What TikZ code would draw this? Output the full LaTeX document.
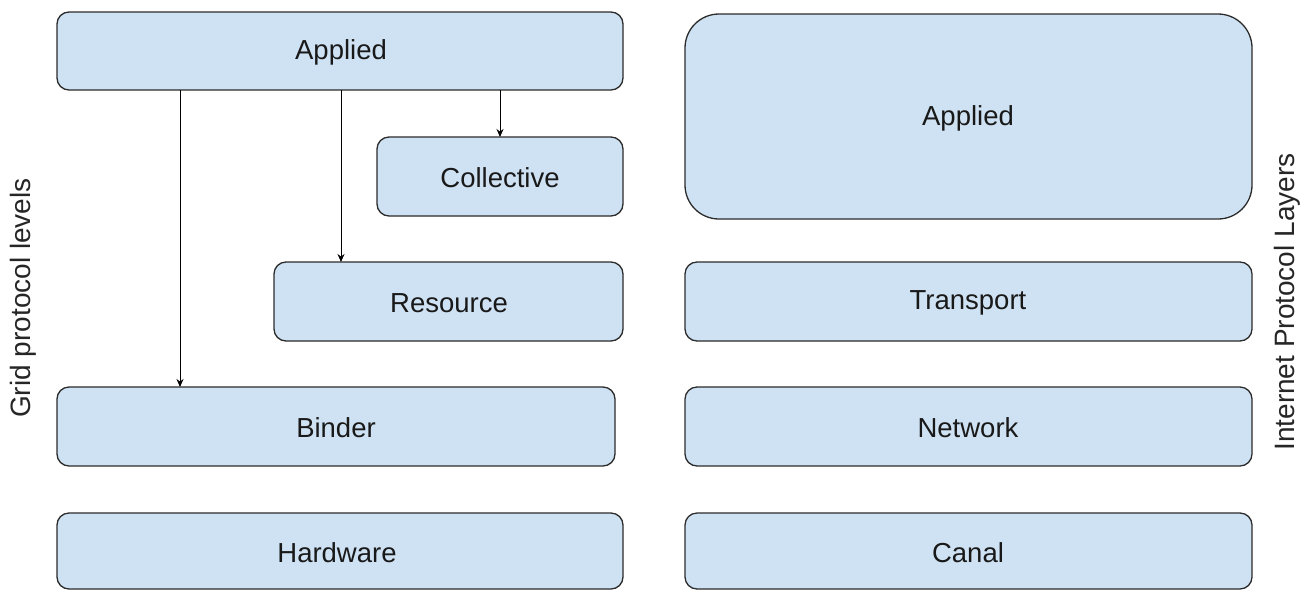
\documentclass[tikz,border=0pt]{standalone}
\usepackage{fontspec}
\setmainfont{Liberation Sans}
\usetikzlibrary{arrows.meta}
\definecolor{boxfill}{HTML}{CFE2F3}
\definecolor{boxline}{HTML}{2B2B2B}
\tikzset{
  layer/.style={draw=boxline, line width=1.3pt, fill=boxfill, rounded corners=12pt},
  bigLayer/.style={draw=boxline, line width=1.3pt, fill=boxfill, rounded corners=34pt},
  lbl/.style={font=\fontsize{27.5}{32}\selectfont, text=black!90},
  sidelbl/.style={font=\fontsize{28}{32}\selectfont, text=black!85, rotate=90},
  link/.style={draw=black, line width=1pt, -{Stealth[length=8pt, width=7pt]}}
}
\begin{document}
\begin{tikzpicture}[x=1pt, y=-1pt]
  \useasboundingbox (0,0) rectangle (1311,590);

  % Grid protocol stack (left)
  \draw[layer] (57,12) rectangle (623,90);
  \node[lbl] (gapp) at (341,52) {Applied};
  \draw[layer] (377,137) rectangle (623,216);
  \node[lbl] (gcol) at (500,178) {Collective};
  \draw[layer] (274,262) rectangle (623,341);
  \node[lbl] (gres) at (449,303) {Resource};
  \draw[layer] (57,387) rectangle (615,466);
  \node[lbl] (gbind) at (336,428) {Binder};
  \draw[layer] (57,513) rectangle (623,589);
  \node[lbl] (ghw) at (337,553) {Hardware};

  % Internet protocol stack (right)
  \draw[bigLayer] (685,14) rectangle (1252,219);
  \node[lbl] (iapp) at (968,118) {Applied};
  \draw[layer] (685,262) rectangle (1252,341);
  \node[lbl] (itr) at (968,303) {Transport};
  \draw[layer] (685,387) rectangle (1252,466);
  \node[lbl] (inet) at (968,428) {Network};
  \draw[layer] (685,513) rectangle (1252,589);
  \node[lbl] (ican) at (968,553) {Canal};

  % Connector end points on box edges
  \coordinate (a1) at (180,90);  \coordinate (b1) at (180,387);
  \coordinate (a2) at (341,90);  \coordinate (b2) at (341,262);
  \coordinate (a3) at (500,90);  \coordinate (b3) at (500,137);
  \draw[link] (a1) -- (b1);
  \draw[link] (a2) -- (b2);
  \draw[link] (a3) -- (b3);

  % Side captions
  \node[sidelbl] (gridcap) at (23,298) {Grid protocol levels};
  \node[sidelbl] (ipcap) at (1287,302) {Internet Protocol Layers};
\end{tikzpicture}
\end{document}
